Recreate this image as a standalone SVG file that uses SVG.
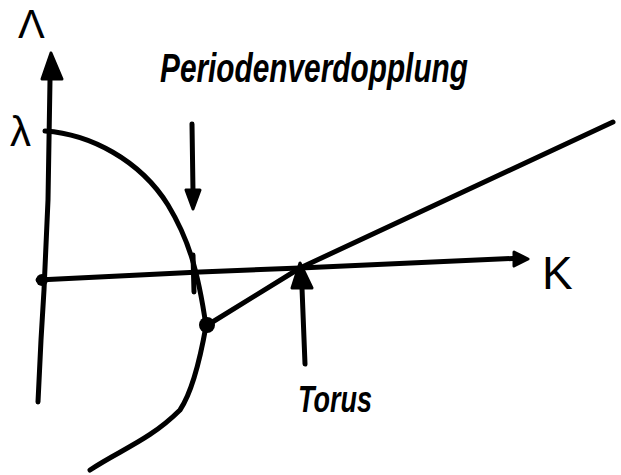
<svg xmlns="http://www.w3.org/2000/svg" width="621" height="475" viewBox="0 0 621 475">
<style>
.s{fill:none;stroke:#000;stroke-width:5;stroke-linecap:round;stroke-linejoin:round}
.f{fill:#000;stroke:#000;stroke-width:3;stroke-linejoin:round}
.t{font-family:"Liberation Sans",Arial,sans-serif;fill:#000}
</style>
<rect width="621" height="475" fill="#fff"/>
<g id="connectors">
<path class="s" d="M50,80 L48,200 L44,290 L41,340 L38,402"/>
<path class="s" d="M38,280 L200,272 L300,268 L522,258"/>
<path class="s" d="M45,131 C90,134 140,160 168,205 C188,238 198,270 206,326 C200,360 192,392 180,410 C150,440 120,450 90,470"/>
<path class="s" d="M206,326 L300,268 L613,122"/>
<path class="s" d="M193,255 L194,292"/>
<path class="s" d="M192,124 L193,192"/>
<path class="s" d="M302,288 L305,364"/>
</g>
<g id="arrowheads">
<polygon class="f" points="51,53 42,79 62,79"/>
<polygon class="f" points="186,190 200,190 193,209"/>
<polygon class="f" points="514,252 528,259 514,266"/>
<polygon class="f" points="300,263 292,288 312,288"/>
<circle cx="42" cy="280" r="6"/>
<circle cx="207" cy="325" r="8"/>
</g>
<g id="labels">
<text class="t" x="18" y="38" font-size="40">Λ</text>
<text class="t" x="10" y="146" font-size="42">λ</text>
<text class="t" x="160" y="82" font-size="40" font-weight="bold" font-style="italic" textLength="308" lengthAdjust="spacingAndGlyphs">Periodenverdopplung</text>
<text class="t" x="298" y="412" font-size="36" font-weight="bold" font-style="italic" textLength="74" lengthAdjust="spacingAndGlyphs">Torus</text>
<text class="t" x="542" y="289" font-size="46">K</text>
</g>
</svg>
